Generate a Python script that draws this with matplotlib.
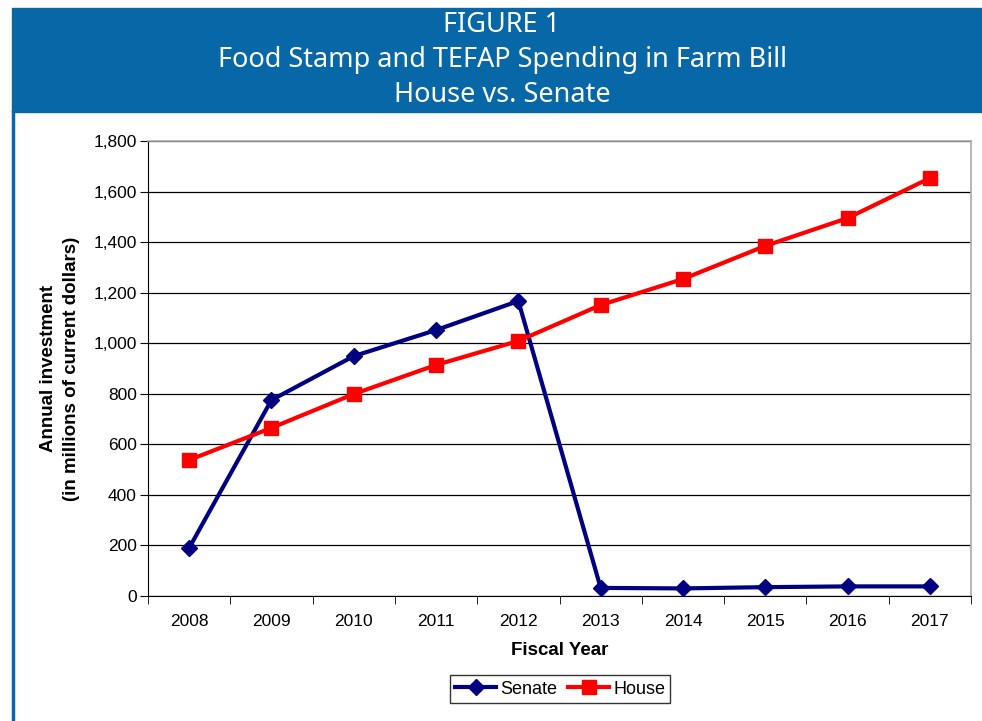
import numpy as np
import matplotlib
matplotlib.use("Agg")
import matplotlib.pyplot as plt
from matplotlib.patches import Rectangle
from matplotlib.lines import Line2D

years = ["2008", "2009", "2010", "2011", "2012", "2013", "2014", "2015", "2016", "2017"]
senate = [190, 775, 949, 1052, 1167, 32, 30, 35, 38, 38]
house = [538, 665, 799, 914, 1009, 1151, 1254, 1385, 1495, 1653]
yticks = [0, 200, 400, 600, 800, 1000, 1200, 1400, 1600, 1800]
title_lines = ["FIGURE 1", "Food Stamp and TEFAP Spending in Farm Bill", "House vs. Senate"]

W, H = 982, 721
fig = plt.figure(figsize=(W / 100, H / 100), dpi=100)
blue = "#0867A7"

# header band and left frame line
fig.patches.append(Rectangle((12 / W, 1 - 112 / H), 1, 104 / H, transform=fig.transFigure,
                             color=blue, zorder=0))
fig.add_artist(Line2D([13 / W, 13 / W], [0, 1 - 112 / H], transform=fig.transFigure,
                      color=blue, lw=2.5))
for txt, yc in zip(title_lines, [25, 60, 95]):
    fig.text(502 / W, 1 - yc / H, txt, ha="center", va="center", color="white",
             fontsize=19.5, family="Noto Sans", fontweight="medium")

ax = fig.add_axes([148 / W, 1 - 596 / H, 823 / W, 455 / H])
x = np.arange(len(years))
ax.plot(x, senate, color="#000080", lw=3, marker="D", ms=8, label="Senate", zorder=3)
ax.plot(x, house, color="#FF0000", lw=3, marker="s", ms=10, label="House", zorder=3)

ax.set_xlim(-0.5, len(years) - 0.5)
ax.set_ylim(0, 1800)
ax.set_yticks(yticks)
ax.set_yticklabels([f"{v:,}" for v in yticks])
ax.set_xticks(x)
ax.set_xticklabels(years)
ax.set_xticks(np.arange(-0.5, len(years), 1), minor=True)
ax.tick_params(axis="x", which="major", length=0, pad=13)
ax.tick_params(axis="x", which="minor", length=6, direction="out")
ax.tick_params(axis="y", length=6, direction="out", pad=2)
for lab in ax.get_xticklabels() + ax.get_yticklabels():
    lab.set_family("Liberation Sans")
    lab.set_fontsize(12.5)
ax.grid(axis="y", color="black", lw=0.9)
ax.set_axisbelow(True)
for s in ["top", "right"]:
    ax.spines[s].set_color("#AAAAAA")
    ax.spines[s].set_linewidth(1.2)
for s in ["left", "bottom"]:
    ax.spines[s].set_color("black")

ax.set_xlabel("Fiscal Year", fontsize=13.5, fontweight="bold", family="Liberation Sans", labelpad=9)
ax.set_ylabel("Annual investment\n(in millions of current dollars)", fontsize=13.5,
              fontweight="bold", family="Liberation Sans", labelpad=10, linespacing=1.45)

leg = ax.legend(loc="center", bbox_to_anchor=(560 / W, 1 - 689 / H), bbox_transform=fig.transFigure,
                ncol=2, frameon=True, fancybox=False, edgecolor="black",
                prop={"family": "Liberation Sans", "size": 13}, handlelength=2.3,
                handletextpad=0.2, columnspacing=0.6, borderpad=0.3, borderaxespad=0)
leg.get_frame().set_linewidth(1)

fig.savefig("out.png", dpi=100)
